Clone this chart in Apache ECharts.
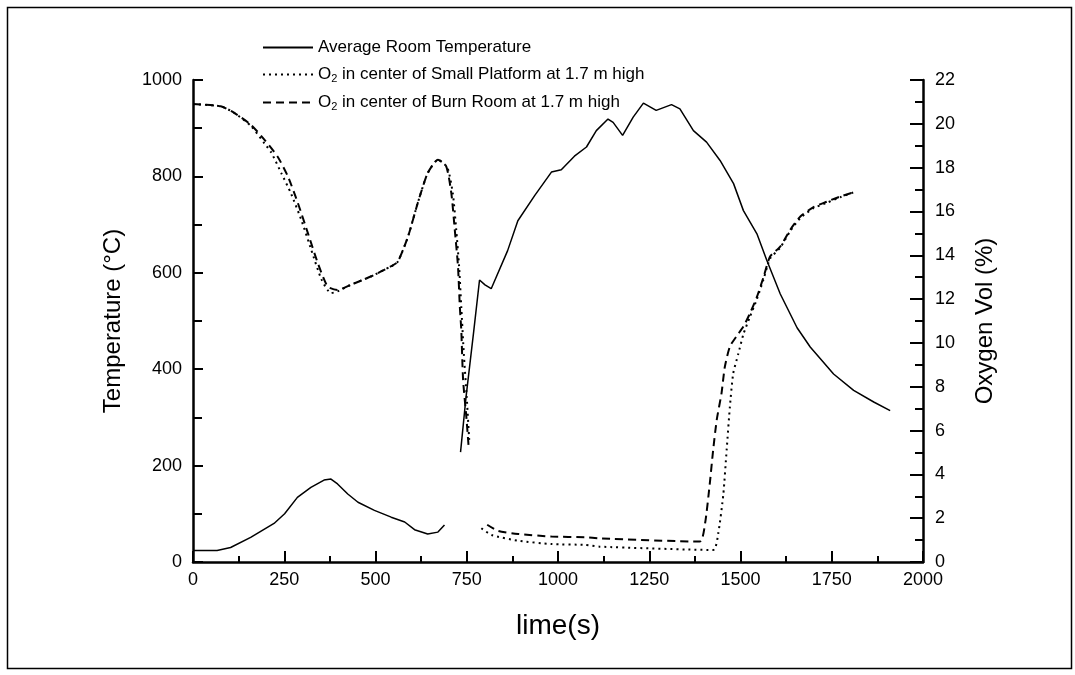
<!DOCTYPE html>
<html>
<head>
<meta charset="utf-8">
<script src="https://cdn.jsdelivr.net/npm/echarts@6/dist/echarts.min.js"></script>
<style>
html,body{margin:0;padding:0;background:#fff;}
#c{width:1075px;height:675px;}
</style>
</head>
<body>
<div id="c"></div>
<script>
// ---- data ----
const xTicks = [0, 250, 500, 750, 1000, 1250, 1500, 1750, 2000];
const seriesNames = ['Average Room Temperature', 'O2 in center of Small Platform at 1.7 m high', 'O2 in center of Burn Room at 1.7 m high'];

// Average room temperature (°C); null marks the gap in the record
const tempTime = [0, 66, 103, 158, 222, 251, 286, 323, 359, 378, 396, 424, 452, 497, 543, 580, 607, 643, 671, 689, 711,
  733, 748, 769, 785, 800, 817, 862, 890, 936, 982, 1009, 1045, 1078, 1105, 1137, 1151, 1177, 1206, 1234, 1269, 1311, 1334, 1371, 1407, 1444, 1481, 1508, 1545, 1572, 1609, 1655, 1691, 1755, 1810, 1865, 1910];
const tempVal = [24, 24, 30, 51, 80, 100, 134, 155, 170, 172, 162, 141, 124, 107, 93, 83, 67, 58, 62, 77, null,
  228, 342, 478, 585, 575, 567, 646, 708, 760, 809, 814, 842, 861, 895, 919, 912, 885, 923, 952, 937, 949, 940, 895, 871, 833, 785, 729, 681, 626, 556, 486, 446, 390, 356, 332, 314];

// O2 small platform (%)
const platTime = [0, 76, 113, 159, 196, 214, 242, 269, 297, 324, 352, 378, 396, 432, 487, 543, 561, 589, 616, 643, 671, 697, 712, 721, 729, 735, 742, 750, 757, 775,
  790, 818, 891, 982, 1074, 1114, 1425, 1439, 1453, 1462, 1471, 1480, 1494, 1508, 1526, 1545, 1563, 1581, 1609, 1636, 1664, 1700, 1737, 1773, 1815];
const platVal = [20.9, 20.8, 20.5, 19.9, 19.1, 18.7, 17.75, 16.8, 15.6, 14.25, 12.9, 12.27, 12.35, 12.65, 13.03, 13.5, 13.7, 14.85, 16.4, 17.75, 18.36, 18.0, 16.8, 15.2, 13.5, 11.66, 9.5, 7.5, 5.5, null,
  1.54, 1.23, 0.97, 0.82, 0.78, 0.7, 0.55, 1.3, 3.1, 5.1, 7.1, 8.6, 9.5, 10.4, 11.2, 12.0, 12.9, 13.85, 14.35, 15.1, 15.7, 16.15, 16.4, 16.65, 16.9];

// O2 burn room (%)
const burnTime = [0, 76, 113, 159, 196, 232, 260, 287, 315, 342, 369, 396, 432, 487, 543, 561, 589, 616, 643, 671, 694, 708, 717, 726, 731, 735, 740, 749, 755, 780,
  806, 836, 891, 982, 1074, 1114, 1388, 1403, 1416, 1425, 1435, 1448, 1457, 1471, 1489, 1508, 1526, 1545, 1563, 1581, 1609, 1636, 1664, 1700, 1737, 1773, 1815];
const burnVal = [20.9, 20.8, 20.5, 19.95, 19.27, 18.5, 17.6, 16.4, 15.0, 13.64, 12.57, 12.42, 12.65, 13.03, 13.5, 13.7, 14.85, 16.4, 17.75, 18.36, 18.05, 16.8, 15.2, 13.5, 11.66, 10.6, 8.3, 6.6, 5.3, null,
  1.7, 1.42, 1.28, 1.16, 1.13, 1.08, 0.93, 1.77, 3.6, 5.1, 6.5, 7.7, 8.9, 9.84, 10.3, 10.75, 11.35, 12.1, 13.0, 13.94, 14.4, 15.16, 15.77, 16.2, 16.45, 16.68, 16.9];

function zip(a, b) { return a.map((t, i) => b[i] === null ? [t, '-'] : [t, b[i]]); }

const FONT = '"Liberation Sans", Arial, sans-serif';
const chart = echarts.init(document.getElementById('c'), null, {renderer: 'canvas'});
chart.setOption({
  backgroundColor: '#fff',
  animation: false,
  graphic: [{
    type: 'rect', left: 5, top: 5, z: -1,
    shape: {width: 1064, height: 661},
    style: {fill: 'none', stroke: '#000', lineWidth: 1.5}
  }],
  grid: {left: 193, right: 152, top: 80, bottom: 113},
  legend: {
    orient: 'vertical', left: 257, top: 34,
    itemWidth: 50, itemHeight: 14, itemGap: 10,
    data: seriesNames,
    itemStyle: {opacity: 0},
    formatter: function (n) {
      if (n.indexOf('O2') === 0) return '{n|O}{s|2}{n|' + n.slice(2) + '}';
      return '{n|' + n + '}';
    },
    textStyle: {
      color: '#000', fontFamily: FONT, fontSize: 17,
      rich: {
        n: {fontFamily: FONT, fontSize: 17, color: '#000', lineHeight: 16},
        s: {fontFamily: FONT, fontSize: 11, color: '#000', verticalAlign: 'bottom', padding: [8, 0, 0, 0]}
      }
    }
  },
  xAxis: {
    type: 'value', min: 0, max: 2000, interval: 250,
    name: 'lime(s)', nameLocation: 'middle', nameGap: 50,
    nameTextStyle: {fontFamily: FONT, fontSize: 28, color: '#000'},
    axisLine: {show: true, onZero: false, lineStyle: {color: '#000', width: 2.5}},
    axisTick: {show: true, inside: true, length: 11, lineStyle: {color: '#000', width: 2}},
    minorTick: {show: true, splitNumber: 2, length: 6, lineStyle: {color: '#000', width: 2}},
    axisLabel: {fontFamily: FONT, fontSize: 18, color: '#000', margin: 9,
      formatter: v => xTicks.indexOf(v) >= 0 ? String(v) : ''},
    splitLine: {show: false}
  },
  yAxis: [{
    type: 'value', min: 0, max: 1000, interval: 200, position: 'left',
    name: 'Temperature (°C)', nameLocation: 'middle', nameGap: 68, nameRotate: 90,
    nameTextStyle: {fontFamily: FONT, fontSize: 24, color: '#000'},
    axisLine: {show: true, lineStyle: {color: '#000', width: 2.5}},
    axisTick: {show: true, inside: true, length: 10, lineStyle: {color: '#000', width: 2}},
    minorTick: {show: true, splitNumber: 2, length: 9, lineStyle: {color: '#000', width: 2}},
    axisLabel: {fontFamily: FONT, fontSize: 18, color: '#000', margin: 11, formatter: v => String(v)},
    splitLine: {show: false}
  }, {
    type: 'value', min: 0, max: 22, interval: 2, position: 'right',
    name: 'Oxygen Vol (%)', nameLocation: 'middle', nameGap: 50, nameRotate: 90,
    nameTextStyle: {fontFamily: FONT, fontSize: 24, color: '#000'},
    axisLine: {show: true, lineStyle: {color: '#000', width: 2.5}},
    axisTick: {show: true, inside: true, length: 13, lineStyle: {color: '#000', width: 2}},
    minorTick: {show: true, splitNumber: 2, length: 8, lineStyle: {color: '#000', width: 2}},
    axisLabel: {fontFamily: FONT, fontSize: 18, color: '#000', margin: 12, formatter: v => String(v)},
    splitLine: {show: false}
  }],
  series: [{
    name: seriesNames[0], type: 'line', yAxisIndex: 0, symbol: 'none', smooth: false,
    connectNulls: false,
    lineStyle: {color: '#000', width: 1.5, type: 'solid'}, itemStyle: {color: '#000'},
    data: zip(tempTime, tempVal)
  }, {
    name: seriesNames[1], type: 'line', yAxisIndex: 1, symbol: 'none', smooth: 0.2,
    connectNulls: false,
    lineStyle: {color: '#000', width: 2, type: [2, 4]}, itemStyle: {color: '#000'},
    data: zip(platTime, platVal)
  }, {
    name: seriesNames[2], type: 'line', yAxisIndex: 1, symbol: 'none', smooth: 0.2,
    connectNulls: false,
    lineStyle: {color: '#000', width: 2, type: [8, 5]}, itemStyle: {color: '#000'},
    data: zip(burnTime, burnVal)
  }]
});
</script>
</body>
</html>
